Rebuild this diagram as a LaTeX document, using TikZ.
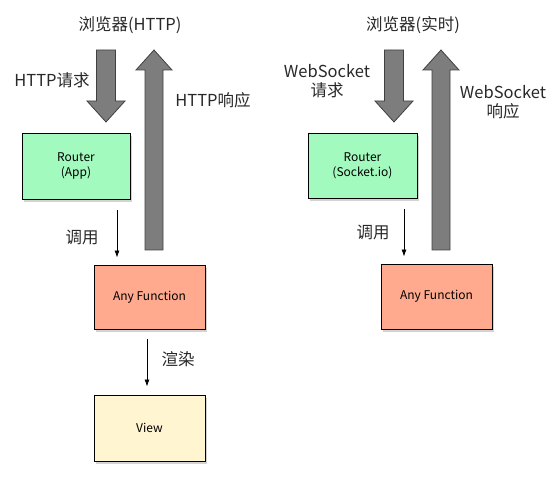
\documentclass[tikz,border=0pt]{standalone}
\usepackage{fontspec}
\setmainfont{Noto Sans CJK SC}
\usetikzlibrary{arrows.meta,shadows,positioning}
\definecolor{routergreen}{RGB}{163,250,190}
\definecolor{funcred}{RGB}{255,170,142}
\definecolor{viewyellow}{RGB}{255,245,208}
\definecolor{arrowgray}{RGB}{125,125,125}
\definecolor{textgray}{RGB}{40,40,40}
\tikzset{
  box/.style={draw=black, line width=0.9pt, align=center, text=black,
    font=\fontsize{12}{15}\selectfont,
    drop shadow={shadow xshift=2pt, shadow yshift=-3pt, opacity=0.35}},
  label/.style={text=textgray, align=center, font=\fontsize{16.5}{19}\selectfont},
  call/.style={-{Latex[length=7pt,width=5pt]}, line width=0.7pt},
  bigarrow/.style={fill=arrowgray, draw=black!75, line width=0.8pt, line join=miter},
}
\begin{document}
\begin{tikzpicture}[x=1pt,y=-1pt]
\useasboundingbox (0,0) rectangle (555,484);
% wide arrows, browser side
\foreach \x in {106,394}{
	\draw[bigarrow] ({\x-9.5},50) -- ({\x+9.5},50) -- ({\x+9.5},101) -- ({\x+19},101)
		-- (\x,122) -- ({\x-19},101) -- ({\x-9.5},101) -- cycle;
	}
\foreach \x in {154,441}{
	\draw[bigarrow] ({\x-9},250) -- ({\x+9},250) -- ({\x+9},70) -- ({\x+18},70)
		-- (\x,50) -- ({\x-18},70) -- ({\x-9},70) -- cycle;
	}
% HTTP
\node[label] (titleA) at (130,25) {浏览器(HTTP)};
\node[label] (reqA) at (52,80) {HTTP请求};
\node[label] (respA) at (213,100) {HTTP响应};
\node[box, fill=routergreen, minimum width=108pt, minimum height=66pt] (routerA) at (76,166) {Router\\(App)};
\node[box, fill=funcred, minimum width=111pt, minimum height=64pt] (funcA) at (149.5,297) {Any Function};
\node[box, fill=viewyellow, minimum width=111pt, minimum height=66pt] (viewA) at (149.5,428) {View};
\node[label] (callA) at (82,237) {调用};
\node[label] (renderA) at (178,359) {渲染};
\draw[call] ([xshift=41pt,yshift=-11pt]routerA.south) -- ([xshift=41pt]routerA.south |- funcA.north) [shorten >=7pt];
\draw[call, shorten <=10pt, shorten >=8pt] ([xshift=-2.5pt]funcA.south) -- ([xshift=-2.5pt]viewA.north);
% real time
\node[label] (titleB) at (413,25) {浏览器(实时)};
\node[label] (reqB) at (327,81) {WebSocket\\请求};
\node[label] (respB) at (503,102) {WebSocket\\响应};
\node[box, fill=routergreen, minimum width=109pt, minimum height=65pt] (routerB) at (362.5,165.5) {Router\\(Socket.io)};
\node[box, fill=funcred, minimum width=111pt, minimum height=65pt] (funcB) at (436.5,296.5) {Any Function};
\node[label] (callB) at (373,232) {调用};
\draw[call, shorten >=7pt] ([xshift=41.5pt,yshift=-11pt]routerB.south) -- ([xshift=41.5pt]routerB.south |- funcB.north);
\end{tikzpicture}
\end{document}
